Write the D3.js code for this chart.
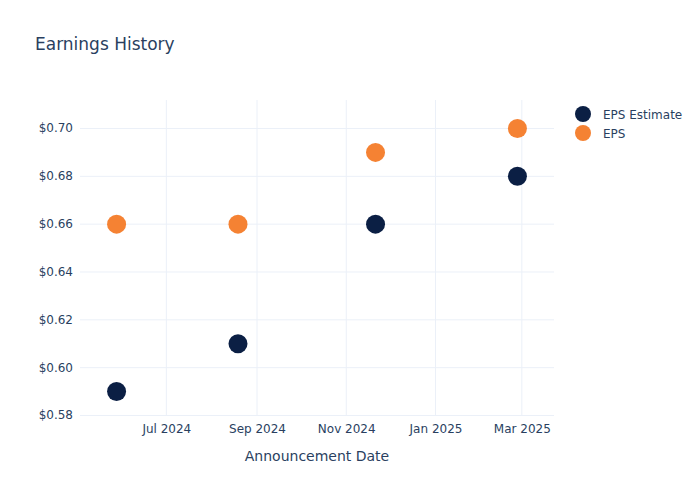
<!DOCTYPE html>
<html>
<head>
<meta charset="utf-8">
<script src="https://cdn.jsdelivr.net/npm/d3@7"></script>
<style>
  body { margin: 0; background: #fff; }
  text { font-family: "DejaVu Sans", "Open Sans", sans-serif; fill: #2a3f5f; }
</style>
</head>
<body>
<div id="chart"></div>
<script>
// data
var dates = ["2024-05-28", "2024-08-19", "2024-11-21", "2025-02-26"];
var epsEstimate = [0.59, 0.61, 0.66, 0.68];
var eps = [0.66, 0.66, 0.69, 0.70];
var yTicks = [0.58, 0.60, 0.62, 0.64, 0.66, 0.68, 0.70];
var xTicks = ["2024-07-01", "2024-09-01", "2024-11-01", "2025-01-01", "2025-03-01"];
var seriesNames = ["EPS Estimate", "EPS"];
var colors = ["#0b1f44", "#f58233"];

var W = 700, H = 500;
var margin = { top: 100, right: 146, bottom: 85, left: 80 };
var width = W - margin.left - margin.right,
    height = H - margin.top - margin.bottom;

var parse = d3.timeParse("%Y-%m-%d");

var svg = d3.select("#chart")
    .append("svg")
    .attr("width", W)
    .attr("height", H);

svg.append("text")
    .attr("x", 35)
    .attr("y", 50)
    .style("font-size", "17px")
    .text("Earnings History");

var g = svg.append("g")
    .attr("transform", "translate(" + margin.left + "," + margin.top + ")");

var x = d3.scaleTime()
    .domain([parse("2024-05-03"), parse("2025-03-23")])
    .range([0, width]);

var y = d3.scaleLinear()
    .domain([0.58, 0.7117])
    .range([height, 0]);

// grid
g.append("g").selectAll("line")
    .data(yTicks)
    .enter().append("line")
    .attr("x1", 0).attr("x2", width)
    .attr("y1", d => y(d) + 0.5).attr("y2", d => y(d) + 0.5)
    .attr("stroke", "#ebf0f8").attr("stroke-width", 1);

g.append("g").selectAll("line")
    .data(xTicks.map(parse))
    .enter().append("line")
    .attr("x1", d => x(d)).attr("x2", d => x(d))
    .attr("y1", 0).attr("y2", height)
    .attr("stroke", "#ebf0f8").attr("stroke-width", 1);

// axes
var xAxis = g.append("g")
    .attr("transform", "translate(0," + height + ")")
    .call(d3.axisBottom(x).tickValues(xTicks.map(parse))
        .tickFormat(d3.timeFormat("%b %Y")).tickSize(0).tickPadding(9));
xAxis.select(".domain").remove();
xAxis.selectAll("text").style("font-size", "12px").attr("fill", "#2a3f5f");

var yAxis = g.append("g")
    .call(d3.axisLeft(y).tickValues(yTicks)
        .tickFormat(d => "$" + d3.format(".2f")(d)).tickSize(0).tickPadding(7));
yAxis.select(".domain").remove();
yAxis.selectAll("text").style("font-size", "12px").attr("fill", "#2a3f5f");

svg.append("text")
    .attr("x", margin.left + width / 2)
    .attr("y", 461)
    .attr("text-anchor", "middle")
    .style("font-size", "14px")
    .text("Announcement Date");

// points
var series = [epsEstimate, eps];
series.forEach(function (vals, s) {
    g.append("g").selectAll("circle")
        .data(vals)
        .enter().append("circle")
        .attr("cx", (d, i) => x(parse(dates[i])))
        .attr("cy", d => y(d) + 0.5)
        .attr("r", 9.5)
        .attr("fill", colors[s]);
});

// legend
var legend = svg.append("g").attr("transform", "translate(583,114)");
seriesNames.forEach(function (name, i) {
    var row = legend.append("g").attr("transform", "translate(0," + (i * 19) + ")");
    row.append("circle").attr("r", 8).attr("fill", colors[i]);
    row.append("text").attr("x", 20).attr("y", 4.5)
        .style("font-size", "12px").text(name);
});
</script>
</body>
</html>
